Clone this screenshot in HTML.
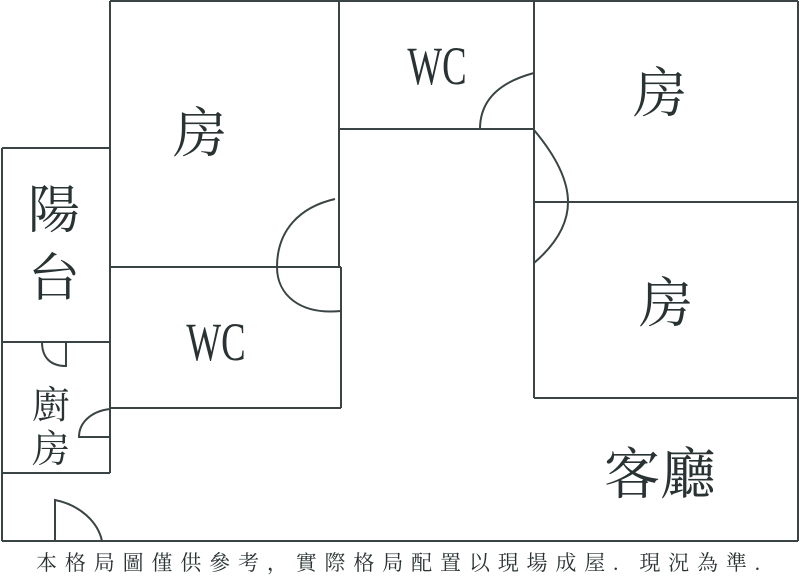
<!DOCTYPE html>
<html><head><meta charset="utf-8"><style>
html,body{margin:0;padding:0;background:#fff;}
svg{display:block;}
text{font-family:"Liberation Serif","Noto Serif CJK SC","Noto Sans CJK TC",serif;fill:#2a3333;}
.wc{font-family:"Liberation Serif",serif;}
</style></head><body>
<svg width="800" height="576" viewBox="0 0 800 576" xmlns="http://www.w3.org/2000/svg">
<g stroke="#3a4444" stroke-width="2" fill="none">
<line x1="110" y1="1" x2="798" y2="1"/>
<line x1="798" y1="1" x2="798" y2="541"/>
<line x1="2" y1="541" x2="798" y2="541"/>
<line x1="2" y1="148" x2="2" y2="541"/>
<line x1="110" y1="1" x2="110" y2="473"/>
<line x1="339" y1="1" x2="339" y2="267"/>
<line x1="2" y1="148" x2="110" y2="148"/>
<line x1="2" y1="342" x2="110" y2="342"/>
<line x1="2" y1="473" x2="110" y2="473"/>
<line x1="110" y1="267" x2="341" y2="267"/>
<line x1="341" y1="267" x2="341" y2="408"/>
<line x1="110" y1="408" x2="341" y2="408"/>
<line x1="339" y1="129" x2="534" y2="129"/>
<line x1="534" y1="1" x2="534" y2="398"/>
<line x1="534" y1="202" x2="798" y2="202"/>
<line x1="534" y1="398" x2="798" y2="398"/>
<path d="M335,199 C300,207 277,230 277,267 C277,295 300,315 341,311"/>
<path d="M534,73 C500,82 480,100 480,129"/>
<path d="M534,130 C555,155 568,180 568,202 C568,225 555,245 534,263"/>
<path d="M42,342 C42,357 50,366 66,366 L66,342"/>
<path d="M110,409 C92,411 79,422 79,437 L110,437"/>
<path d="M55,541 L55,500 C80,505 98,522 102,541"/>
</g>
<text x="200" y="152" font-size="54" text-anchor="middle">房</text>
<text class="wc" x="437" y="84" font-size="54" text-anchor="middle" transform="translate(437,0) scale(0.68,1) translate(-437,0)">WC</text>
<text x="660" y="112" font-size="54" text-anchor="middle">房</text>
<text x="666" y="322" font-size="54" text-anchor="middle">房</text>
<text class="wc" x="216" y="360" font-size="54" text-anchor="middle" transform="translate(216,0) scale(0.68,1) translate(-216,0)">WC</text>
<text x="54" y="228" font-size="52" text-anchor="middle">陽</text>
<text x="54" y="296" font-size="52" text-anchor="middle">台</text>
<text x="51" y="418" font-size="38" text-anchor="middle">廚</text>
<text x="51" y="462" font-size="38" text-anchor="middle">房</text>
<text x="660" y="494" font-size="56" text-anchor="middle">客廳</text>
<text x="36" y="570" font-size="21" textLength="724" lengthAdjust="spacing">本格局圖僅供參考，實際格局配置以現場成屋. 現況為準.</text>
</svg>
</body></html>
